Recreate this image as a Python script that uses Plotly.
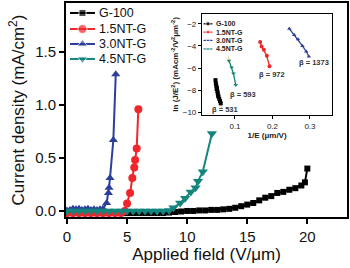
import numpy as np
import plotly.graph_objects as go

# ---------------- main data ----------------
g100_x = [0.0, 0.5, 1.0, 1.5, 2.0, 2.5, 3.0, 3.5, 4.0, 4.5, 5.0, 5.5, 6.0, 6.5, 7.0, 7.5, 8.0,
          8.5, 9.0, 9.5, 10.0, 10.5, 11.0, 11.5, 12.0, 12.5, 13.0, 13.5, 14.0, 14.5, 15.0, 15.5,
          16.0, 16.5, 17.0, 17.5, 18.0, 18.5, 19.0, 19.5, 19.8, 20.0]
g100_y = [-0.02, -0.02, -0.02, -0.02, -0.02, -0.02, -0.02, -0.02, -0.02, -0.02, -0.02, -0.02,
          -0.02, -0.02, -0.02, -0.02, -0.02, -0.015, -0.01, -0.005, 0.0, 0.0, 0.005, 0.005, 0.01,
          0.01, 0.015, 0.02, 0.03, 0.045, 0.06, 0.075, 0.1, 0.125, 0.14, 0.17, 0.18, 0.2, 0.215,
          0.24, 0.27, 0.40]

nt15_x = [0.0, 0.5, 1.0, 1.5, 2.0, 2.5, 3.0, 3.5, 4.0, 4.5, 4.8, 5.0, 5.25, 5.44, 5.6, 5.67, 5.8, 5.94]
nt15_y = [-0.02, -0.02, -0.02, -0.02, -0.02, -0.02, -0.02, -0.02, -0.02, -0.02, 0.0, 0.07, 0.17,
          0.31, 0.41, 0.48, 0.59, 0.96]

nt30_x = [0.0, 0.25, 0.5, 0.75, 1.0, 1.25, 1.5, 1.75, 2.0, 2.25, 2.5, 2.75, 3.0, 3.3, 3.45, 3.5,
          3.58, 3.86, 4.06]
nt30_y = [0.005, 0.01, 0.02, 0.015, 0.02, 0.01, 0.015, 0.02, 0.01, 0.015, 0.01, 0.015, 0.02,
          0.075, 0.17, 0.22, 0.31, 0.67, 1.29]

nt45_x = [0.0, 0.5, 1.0, 1.5, 2.0, 2.5, 3.0, 3.5, 4.0, 4.5, 5.0, 5.5, 6.0, 6.5, 7.0, 7.5, 8.0,
          8.5, 8.86, 9.42, 9.83, 10.3, 10.7, 10.9, 11.3, 12.06]
nt45_y = [0.0, 0.0, 0.0, 0.0, 0.0, 0.0, 0.0, 0.0, 0.0, 0.0, 0.0, 0.0, 0.0, 0.0, 0.0, 0.0, 0.0,
          0.005, 0.03, 0.075, 0.12, 0.18, 0.22, 0.28, 0.37, 0.73]

# ---------------- inset (F-N) data ----------------
fn_g100_x = [0.048, 0.049, 0.050, 0.051, 0.052, 0.053, 0.054, 0.055, 0.056, 0.058, 0.060, 0.062]
fn_g100_y = [-7.1, -7.4, -7.6, -7.9, -7.8, -8.1, -8.3, -8.5, -8.6, -8.8, -9.0, -9.2]
fn_45_x = [0.084, 0.091, 0.096, 0.102]
fn_45_y = [-5.35, -5.95, -6.5, -7.55]
fn_15_x = [0.167, 0.171, 0.177, 0.185, 0.192]
fn_15_y = [-3.65, -4.05, -4.35, -4.9, -5.85]
fn_30_x = [0.245, 0.258, 0.268, 0.280, 0.290, 0.297]
fn_30_y = [-2.45, -3.0, -3.4, -4.0, -4.5, -4.95]

beta_labels = ["β = 531", "β = 593", "β = 972", "β = 1373"]
beta_x = [0.073, 0.122, 0.200, 0.310]
beta_y = [-9.75, -8.4, -6.55, -5.5]

names = ["G-100", "1.5NT-G", "3.0NT-G", "4.5NT-G"]
colors = ["#000000", "#f0262b", "#2c3f9c", "#13857c"]
symbols = ["square", "circle", "triangle-up", "triangle-down"]

FONT = "Liberation Sans, Arial, sans-serif"

fig = go.Figure()

main_sets = [(g100_x, g100_y, 6), (nt15_x, nt15_y, 8), (nt30_x, nt30_y, 8), (nt45_x, nt45_y, 9)]
for (xs, ys, ms), n, c, s in zip(main_sets, names, colors, symbols):
    fig.add_trace(go.Scatter(x=xs, y=ys, mode="lines+markers", name=n, showlegend=False,
                             line=dict(color=c, width=2),
                             marker=dict(symbol=s, size=ms, color=c),
                             xaxis="x", yaxis="y"))

# main legend (hand-drawn sample segments, in main-axis units)
main_leg_y = [1.868, 1.717, 1.575, 1.434]
main_leg_ms = [7, 9, 9, 9]
for n, c, s, ly, ms in zip(names, colors, symbols, main_leg_y, main_leg_ms):
    fig.add_trace(go.Scatter(x=[0.25, 1.29, 2.33], y=[ly, ly, ly], mode="lines+markers",
                             showlegend=False, line=dict(color=c, width=2),
                             marker=dict(symbol=s, size=[0, ms, 0], color=c),
                             xaxis="x", yaxis="y", hoverinfo="skip"))
    fig.add_annotation(x=2.5, y=ly, xref="x", yref="y", text=n,
                       showarrow=False, xanchor="left", yanchor="middle",
                       font=dict(family=FONT, size=12.5, color="#111"))

# inset traces
inset_sets = [(fn_g100_x, fn_g100_y), (fn_15_x, fn_15_y), (fn_30_x, fn_30_y), (fn_45_x, fn_45_y)]
for (xs, ys), n, c, s in zip(inset_sets, names, colors, symbols):
    p = np.polyfit(xs, ys, 1)
    fx = [min(xs) - 0.002, max(xs) + 0.002]
    fy = [p[0] * v + p[1] for v in fx]
    fig.add_trace(go.Scatter(x=fx, y=fy, mode="lines", showlegend=False,
                             line=dict(color="#d8c86a", width=1),
                             xaxis="x2", yaxis="y2", hoverinfo="skip"))
    fig.add_trace(go.Scatter(x=xs, y=ys, mode="lines+markers", showlegend=False,
                             line=dict(color=c, width=1.2),
                             marker=dict(symbol=s, size=4, color=c),
                             xaxis="x2", yaxis="y2"))

# inset legend (hand-drawn sample segments)
leg_y = [-2.0, -2.75, -3.5, -4.27]
for n, c, s, ly in zip(names, colors, symbols, leg_y):
    fig.add_trace(go.Scatter(x=[0.016, 0.028, 0.040], y=[ly, ly, ly], mode="lines+markers",
                             showlegend=False, line=dict(color=c, width=1.2),
                             marker=dict(symbol=s, size=[0, 4, 0], color=c),
                             xaxis="x2", yaxis="y2", hoverinfo="skip"))
    fig.add_annotation(x=0.045, y=ly, xref="x2", yref="y2", text="<b>%s</b>" % n,
                       showarrow=False, xanchor="left", yanchor="middle",
                       font=dict(family=FONT, size=7, color="#222"))

for t, bx, by in zip(beta_labels, beta_x, beta_y):
    fig.add_annotation(x=bx, y=by, xref="x2", yref="y2", text="<b>%s</b>" % t,
                       showarrow=False, xanchor="center", yanchor="middle",
                       font=dict(family=FONT, size=7.5, color="#333"))

fig.update_layout(
    width=350, height=268,
    margin=dict(l=66, r=3, t=3, b=51, autoexpand=False),
    paper_bgcolor="white", plot_bgcolor="white",
    font=dict(family=FONT, color="#111"),
    showlegend=False,
    xaxis=dict(domain=[0, 1], range=[-0.08, 23.3], tickvals=[0, 5, 10, 15, 20],
               automargin=False,
               showline=True, linecolor="black", linewidth=2, mirror=True,
               ticks="outside", ticklen=5, tickwidth=2, tickcolor="black",
               showgrid=False, zeroline=False,
               tickfont=dict(family=FONT, size=15, color="#111"),
               title=dict(text="Applied field (V/μm)", standoff=0,
                          font=dict(family=FONT, size=17, color="#111"))),
    yaxis=dict(domain=[0, 1], range=[-0.057, 1.962], tickvals=[0.0, 0.5, 1.0, 1.5],
               tickformat=".1f", automargin=False,
               showline=True, linecolor="black", linewidth=2, mirror=True,
               ticks="outside", ticklen=5, tickwidth=2, tickcolor="black",
               showgrid=False, zeroline=False,
               tickfont=dict(family=FONT, size=15, color="#111"),
               title=dict(text="Current density (mA/cm<sup>2</sup>)", standoff=6,
                          font=dict(family=FONT, size=17, color="#111"))),
    xaxis2=dict(domain=[0.484, 0.947], range=[0.012, 0.359], anchor="y2",
                tickvals=[0.1, 0.2, 0.3], tickformat=".1f", automargin=False,
                showline=True, linecolor="black", linewidth=1.2, mirror=True,
                ticks="outside", ticklen=3, tickwidth=1, tickcolor="black",
                showgrid=False, zeroline=False,
                tickfont=dict(family=FONT, size=8, color="#222"),
                title=dict(text="<b>1/E (μm/V)</b>", standoff=2,
                           font=dict(family=FONT, size=8, color="#222"))),
    yaxis2=dict(domain=[0.477, 0.949], range=[-10.25, -1.1], anchor="x2",
                tickvals=[-2, -4, -6, -8, -10], automargin=False,
                showline=True, linecolor="black", linewidth=1.2, mirror=True,
                ticks="outside", ticklen=3, tickwidth=1, tickcolor="black",
                showgrid=False, zeroline=False,
                tickfont=dict(family=FONT, size=8, color="#222"),
                title=dict(text="<b>ln (J/E<sup>2</sup>) (mAcm<sup>-2</sup>/V<sup>2</sup>μm<sup>-2</sup>)</b>",
                           standoff=2, font=dict(family=FONT, size=8, color="#222"))),
)

fig.write_html("out.html", config={"displayModeBar": False},
               post_script="document.body.style.margin='0px';")
